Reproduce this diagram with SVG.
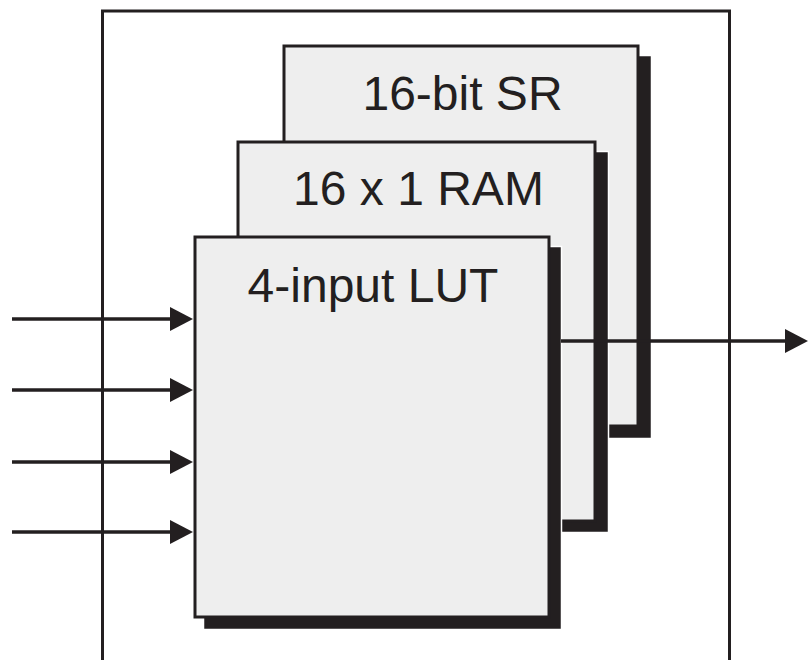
<svg xmlns="http://www.w3.org/2000/svg" width="808" height="660" viewBox="0 0 808 660">
  <style>
    .frame { fill: none; stroke: #231f20; stroke-width: 3; }
    .shadow { fill: #231f20; stroke: #ffffff; stroke-width: 1.5; }
    .box { fill: #eeeeee; stroke: #231f20; stroke-width: 3; }
    .label { font-family: "Liberation Sans", Arial, sans-serif; font-size: 48px; fill: #231f20; text-anchor: middle; }
    .wire { stroke: #231f20; stroke-width: 3.4; fill: none; }
  </style>
  <defs>
    <marker id="arrow" markerUnits="userSpaceOnUse" markerWidth="23" markerHeight="24" refX="5" refY="12" orient="auto">
      <path d="M0,0 L23,12 L0,24 z" fill="#231f20"/>
    </marker>
  </defs>
  <rect width="808" height="660" fill="#ffffff"/>
  <g id="frame">
    <path class="frame" d="M102.5,662 L102.5,11 L729.5,11 L729.5,662"/>
  </g>
  <g id="sr">
    <rect class="shadow" x="293.5" y="55.5" width="358" height="383"/>
    <rect class="box" x="284" y="46" width="354" height="380"/>
    <text class="label" x="462.5" y="110">16-bit SR</text>
  </g>
  <g id="ram">
    <rect class="shadow" x="247.5" y="151.5" width="361" height="381"/>
    <rect class="box" x="238" y="142" width="357" height="379"/>
    <text class="label" x="418.5" y="205">16 x 1 RAM</text>
  </g>
  <g id="lut">
    <rect class="shadow" x="203.5" y="246.5" width="358" height="383"/>
    <rect class="box" x="195" y="237" width="354" height="380"/>
    <text class="label" x="373" y="302">4-input LUT</text>
  </g>
  <g id="connectors">
    <line class="wire" x1="12" y1="319" x2="175" y2="319" marker-end="url(#arrow)"/>
    <line class="wire" x1="12" y1="390" x2="175" y2="390" marker-end="url(#arrow)"/>
    <line class="wire" x1="12" y1="462" x2="175" y2="462" marker-end="url(#arrow)"/>
    <line class="wire" x1="12" y1="532" x2="175" y2="532" marker-end="url(#arrow)"/>
    <line class="wire" x1="561" y1="341" x2="790" y2="341" marker-end="url(#arrow)"/>
  </g>
</svg>
